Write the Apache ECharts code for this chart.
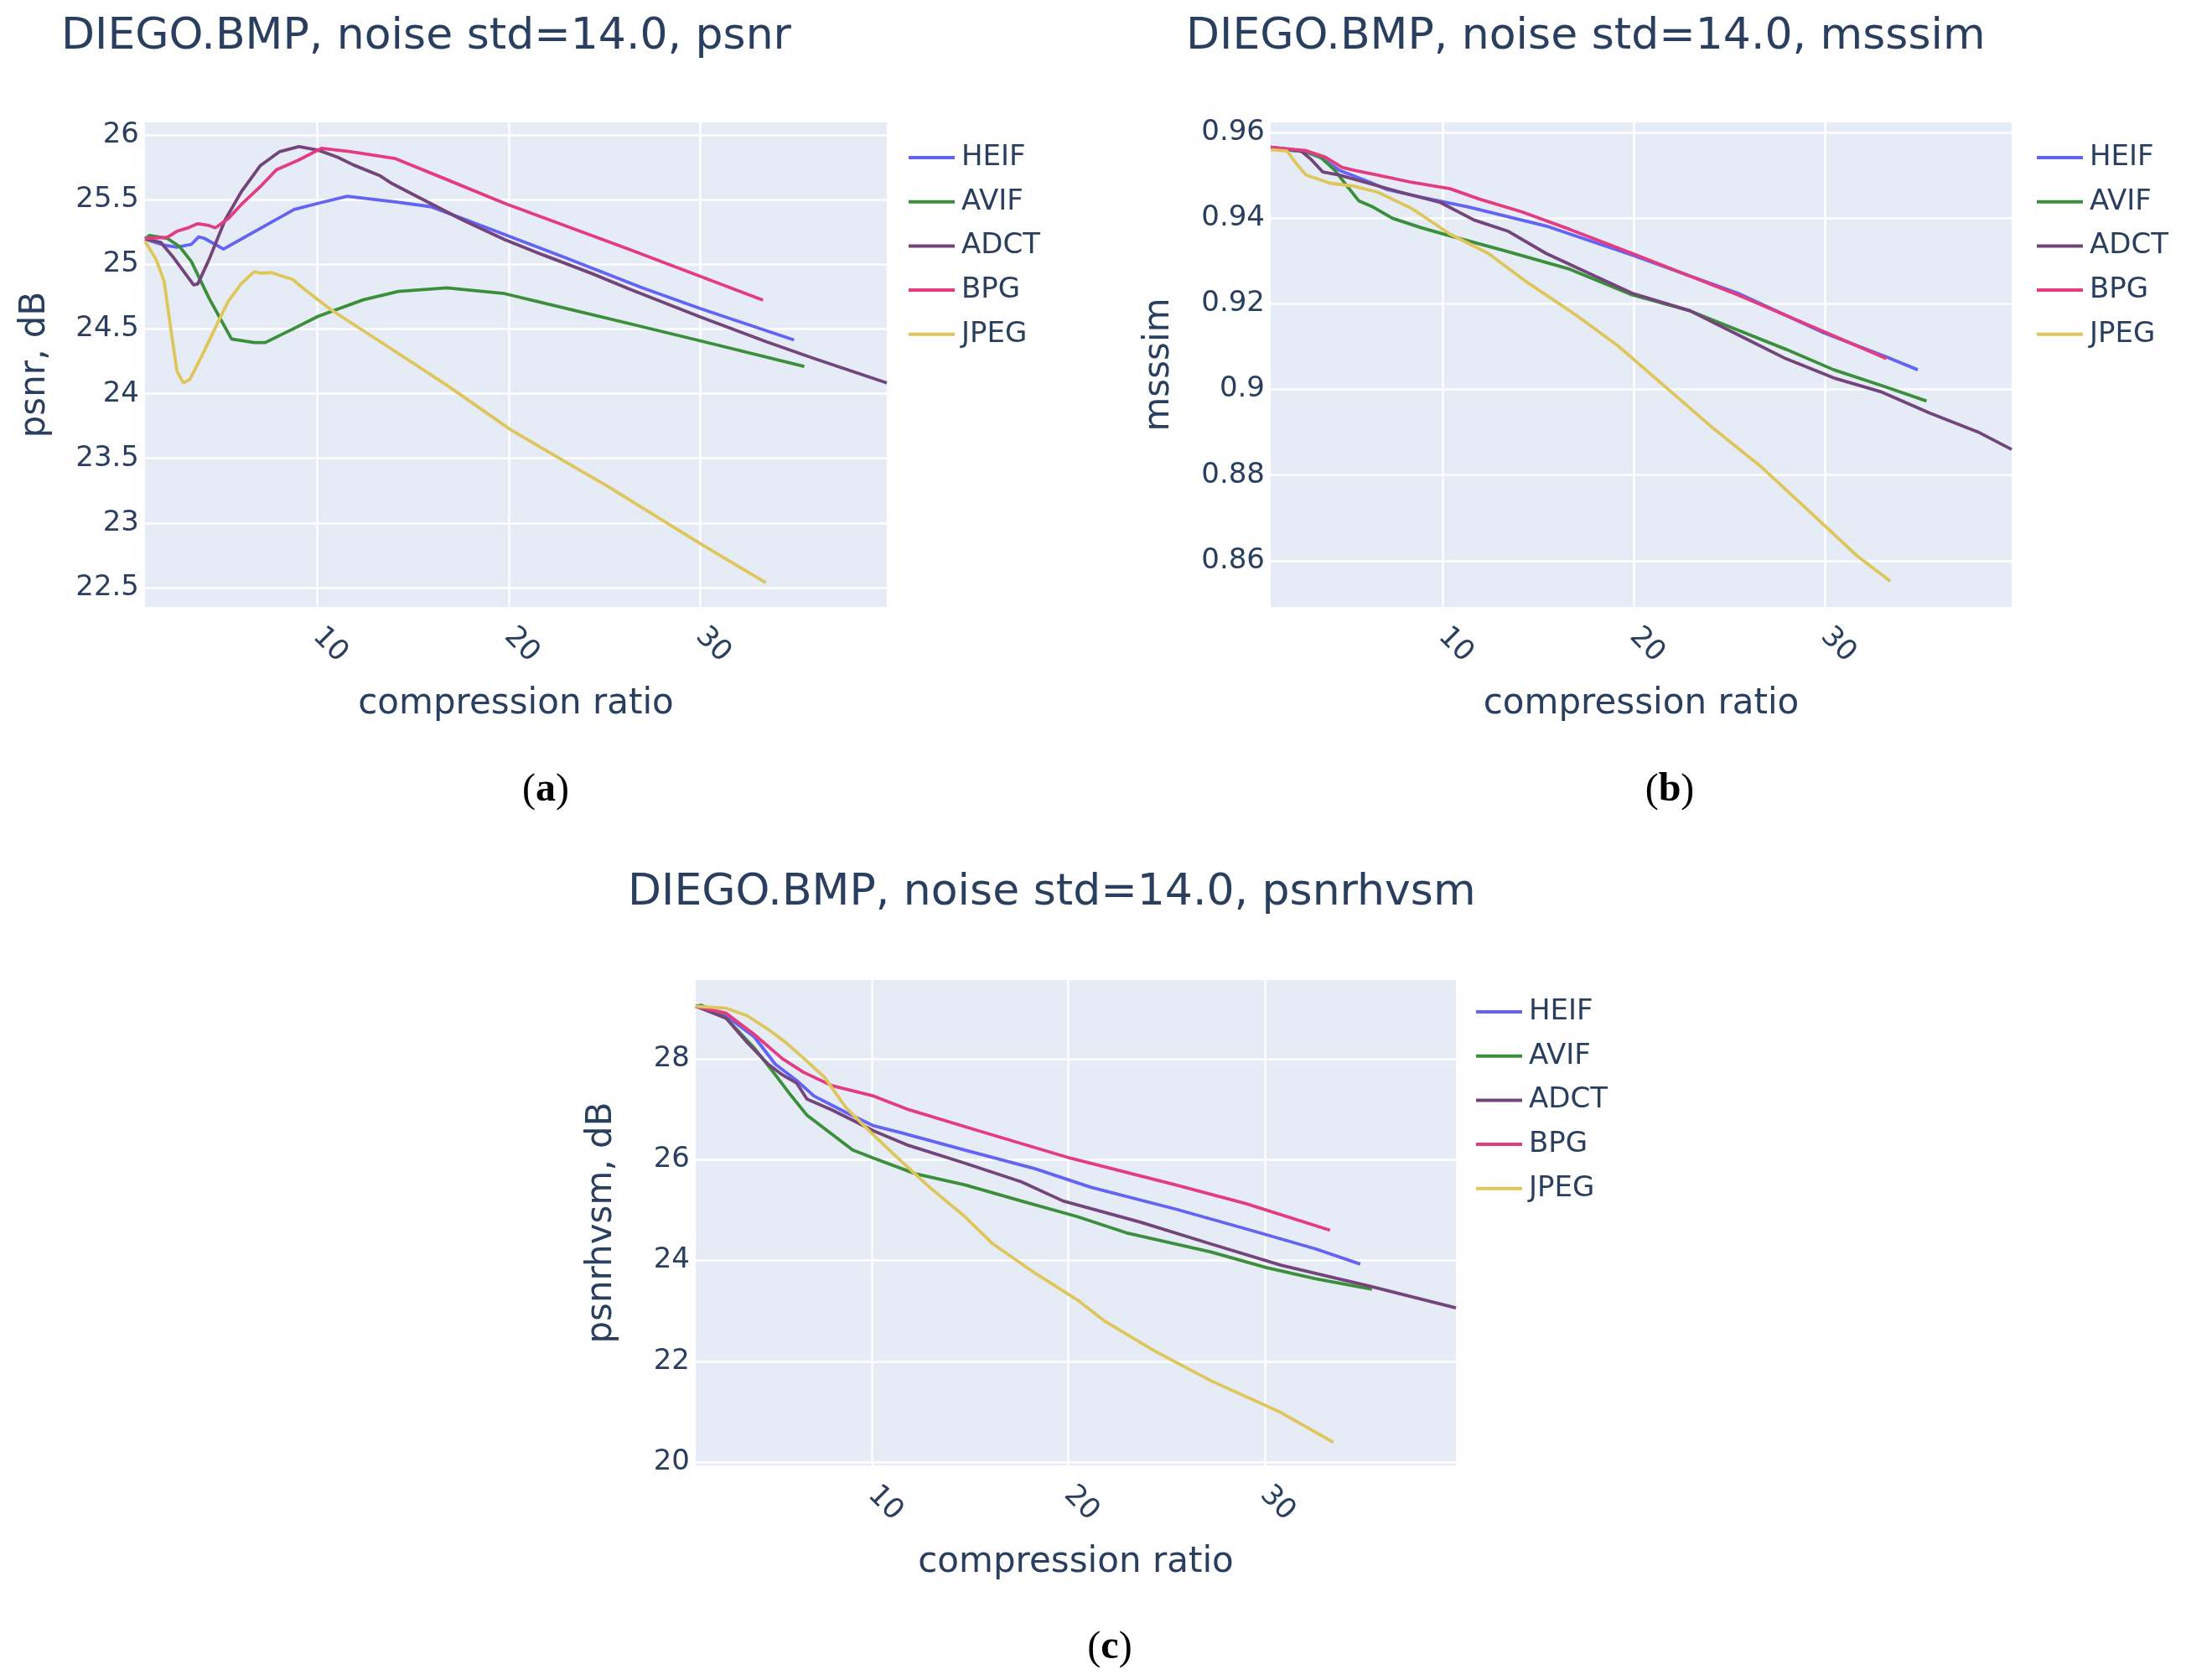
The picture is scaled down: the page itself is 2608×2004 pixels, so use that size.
<!DOCTYPE html>
<html>
<head>
<meta charset="utf-8">
<script src="https://cdn.jsdelivr.net/npm/echarts@6/dist/echarts.min.js"></script>
<style>
html,body{margin:0;padding:0;background:#fff;}
#chart{width:2608px;height:2004px;}
</style>
</head>
<body>
<div id="chart"></div>
<script>
// ---- data (compression ratio, metric) ----
const codecs = ['HEIF', 'AVIF', 'ADCT', 'BPG', 'JPEG'];
const xTicks = [10, 20, 30];
const psnrTicks = [22.5, 23, 23.5, 24, 24.5, 25, 25.5, 26];
const msssimTicks = [0.86, 0.88, 0.9, 0.92, 0.94, 0.96];
const hvsmTicks = [20, 22, 24, 26, 28];

const psnrHEIF = [[1,25.197],[2,25.15],[2.67,25.134],[3.42,25.156],[3.8,25.214],[4.1,25.203],[5.1,25.12],[7.03,25.28],[8.79,25.426],[10.05,25.474],[11.56,25.528],[14.08,25.485],[15.92,25.448],[17.6,25.355],[20.1,25.214],[23,25.05],[26.97,24.82],[30,24.66],[34.9,24.416]];
const psnrAVIF = [[1,25.2],[1.24,25.225],[2.16,25.203],[2.8,25.14],[3.42,25.024],[4.35,24.738],[5.52,24.424],[6.7,24.396],[7.28,24.396],[8.71,24.5],[10.05,24.6],[12.4,24.727],[14.24,24.792],[16.76,24.82],[19.78,24.775],[22.63,24.673],[26.3,24.543],[30,24.41],[35.44,24.211]];
const psnrADCT = [[1,25.197],[1.83,25.171],[2.5,25.052],[3.09,24.933],[3.54,24.842],[3.76,24.85],[4.35,25.04],[5.18,25.344],[6.02,25.56],[7.03,25.766],[8.04,25.874],[9.04,25.913],[10.05,25.885],[11.06,25.831],[11.9,25.77],[13.24,25.69],[13.91,25.626],[15.75,25.485],[17.6,25.344],[19.78,25.193],[21.8,25.074],[24.3,24.933],[26.3,24.81],[30,24.595],[33.5,24.4],[36,24.27],[39.75,24.084]];
const psnrBPG = [[1,25.203],[2.16,25.21],[2.67,25.258],[3.17,25.28],[3.76,25.316],[4.26,25.305],[4.68,25.284],[5.35,25.355],[6.02,25.463],[7.03,25.604],[7.87,25.734],[9.04,25.81],[10.22,25.9],[11.73,25.874],[14.08,25.82],[16.76,25.658],[19.78,25.474],[26.3,25.117],[33.28,24.725]];
const psnrJPEG = [[1,25.18],[1.58,25.04],[2.0,24.868],[2.33,24.52],[2.67,24.175],[3.0,24.084],[3.34,24.11],[4.01,24.305],[4.85,24.565],[5.35,24.716],[6.02,24.85],[6.7,24.944],[7.03,24.933],[7.62,24.937],[8.04,24.916],[8.71,24.885],[9.38,24.803],[10.72,24.65],[13.4,24.392],[16.76,24.067],[20.12,23.72],[23.47,23.43],[25.1,23.29],[30,22.84],[33.43,22.537]];

const msssimHEIF = [[1,0.9564],[2.85,0.9555],[3.6,0.9542],[4.6,0.9512],[6.1,0.9486],[7.1,0.9467],[8.9,0.9449],[11.38,0.9426],[15.4,0.9382],[19.9,0.9314],[25.43,0.9225],[29.95,0.9132],[33.2,0.9076],[34.84,0.9046]];
const msssimAVIF = [[1,0.9564],[2.85,0.9555],[3.6,0.9543],[4.35,0.9512],[5.0,0.9475],[5.6,0.9441],[6.36,0.9426],[7.37,0.94],[8.87,0.9378],[10.38,0.9359],[13.4,0.9322],[16.65,0.9281],[19.9,0.9221],[22.92,0.9184],[25.43,0.9139],[27.94,0.9094],[30.45,0.9046],[32.96,0.9009],[35.3,0.8973]];
const msssimADCT = [[1,0.9566],[2.6,0.9557],[3.1,0.9538],[3.73,0.9508],[4.6,0.9501],[6.1,0.9482],[7.87,0.946],[9.87,0.9437],[11.63,0.9396],[13.4,0.937],[15.4,0.9318],[17.9,0.9266],[19.9,0.9225],[22.92,0.9184],[25.43,0.9128],[27.94,0.9072],[30.45,0.9027],[32.96,0.8994],[35.47,0.8945],[37.98,0.8901],[39.75,0.886]];
const msssimBPG = [[1,0.9566],[2.85,0.9558],[3.85,0.9543],[4.73,0.9519],[5.36,0.9512],[6.6,0.9501],[8.37,0.9484],[10.38,0.9469],[11.9,0.9445],[14.14,0.9415],[16.65,0.9374],[19.9,0.9318],[25.43,0.9221],[29.95,0.9135],[33.2,0.9072]];
const msssimJPEG = [[1,0.956],[1.85,0.9557],[2.35,0.9527],[2.85,0.9501],[4.1,0.9482],[5.36,0.9475],[6.6,0.9461],[8.37,0.9423],[10.38,0.9363],[12.38,0.9318],[14.39,0.9251],[16.9,0.9176],[19.16,0.9102],[21.67,0.9005],[24.18,0.8908],[26.69,0.8818],[29.2,0.8714],[31.7,0.861],[33.4,0.8552]];

const hvsmHEIF = [[1,29.04],[2.56,28.85],[3.99,28.43],[5.06,27.89],[6.14,27.57],[7.03,27.26],[8.64,26.94],[10.07,26.67],[11.5,26.53],[14.72,26.19],[18.3,25.82],[21.16,25.45],[25.46,25.02],[29.03,24.63],[32.6,24.23],[34.87,23.93]];
const hvsmAVIF = [[1,29.04],[1.3,29.06],[2.56,28.8],[3.99,28.21],[5.06,27.68],[5.78,27.31],[6.67,26.88],[7.92,26.51],[9.0,26.19],[10.07,26.03],[12.2,25.72],[14.72,25.5],[17.6,25.18],[20.45,24.87],[22.95,24.55],[27.25,24.17],[30.1,23.86],[32.6,23.64],[35.47,23.43]];
const hvsmADCT = [[1,29.04],[2.56,28.8],[3.63,28.32],[4.7,27.89],[5.42,27.68],[6.14,27.52],[6.67,27.2],[7.92,26.99],[9.0,26.78],[10.07,26.57],[11.86,26.28],[14.72,25.93],[17.6,25.56],[19.73,25.18],[23.67,24.76],[27.25,24.33],[30.82,23.91],[35.47,23.48],[39.75,23.06]];
const hvsmBPG = [[1,29.04],[2.56,28.9],[3.99,28.48],[5.42,28.0],[6.5,27.73],[7.92,27.47],[10.07,27.26],[11.86,26.99],[15.44,26.57],[20.09,26.03],[25.46,25.5],[29.03,25.13],[33.33,24.6]];
const hvsmJPEG = [[1,29.04],[2.56,29.0],[3.63,28.85],[4.7,28.58],[5.6,28.32],[6.67,27.95],[7.57,27.63],[8.64,27.04],[9.71,26.62],[11.14,26.09],[12.93,25.45],[14.72,24.87],[16.15,24.33],[18.3,23.75],[20.45,23.22],[21.88,22.79],[24.38,22.21],[27.25,21.62],[30.82,20.99],[33.5,20.4]];

// ---- styling ----
const colors = {HEIF:'#6464f4', AVIF:'#3b8f3b', ADCT:'#74457a', BPG:'#e43c82', JPEG:'#dfc65c'};
const FONT = 'DejaVu Sans';
const TXT = '#2a3f5f';
const BG = '#e5ecf6';

const panels = [
  {title:'DIEGO.BMP, noise std=14.0, psnr', yName:'psnr, dB', yTicks:psnrTicks, yMin:22.35, yMax:26.1,
   sets:[psnrHEIF, psnrAVIF, psnrADCT, psnrBPG, psnrJPEG],
   grid:{left:173, top:146, width:885, height:578}, titlePos:[68, 13], legendPos:[1079, 163], yGap:110, tag:'a', tagPos:[646, 913]},
  {title:'DIEGO.BMP, noise std=14.0, msssim', yName:'msssim', yTicks:msssimTicks, yMin:0.8492, yMax:0.9624,
   sets:[msssimHEIF, msssimAVIF, msssimADCT, msssimBPG, msssimJPEG],
   grid:{left:1516, top:146, width:884, height:578}, titlePos:[1410, 13], legendPos:[2425, 163], yGap:112, tag:'b', tagPos:[1987, 913]},
  {title:'DIEGO.BMP, noise std=14.0, psnrhvsm', yName:'psnrhvsm, dB', yTicks:hvsmTicks, yMin:19.94, yMax:29.56,
   sets:[hvsmHEIF, hvsmAVIF, hvsmADCT, hvsmBPG, hvsmJPEG],
   grid:{left:830, top:1169, width:907, height:579}, titlePos:[744, 1034], legendPos:[1756, 1182], yGap:91, tag:'c', tagPos:[1319, 1936]}
];

const option = {
  backgroundColor:'#ffffff',
  animation:false,
  title:[], grid:[], xAxis:[], yAxis:[], legend:[], series:[]
};

panels.forEach((p, i) => {
  option.title.push({text:p.title, left:p.titlePos[0], top:p.titlePos[1],
    textStyle:{fontFamily:FONT, fontSize:52, fontWeight:'normal', color:TXT, lineHeight:52}});
  option.title.push({text:'{p|(}{b|' + p.tag + '}{p|)}', left:p.tagPos[0], top:p.tagPos[1], textAlign:'center',
    textStyle:{fontWeight:'normal', rich:{p:{fontFamily:'Liberation Serif', fontSize:48, fontWeight:'normal', color:'#000', lineHeight:50},
                     b:{fontFamily:'Liberation Serif', fontSize:48, fontWeight:'bold', color:'#000', lineHeight:50}}}});
  option.grid.push(Object.assign({show:true, backgroundColor:BG, borderWidth:0, containLabel:false, outerBoundsMode:'none'}, p.grid));
  option.xAxis.push({type:'value', gridIndex:i, min:1, max:39.75,
    name:'compression ratio', nameLocation:'middle', nameGap:95,
    nameTextStyle:{fontFamily:FONT, fontSize:42, color:TXT},
    axisLine:{show:false}, axisTick:{show:false, customValues:xTicks},
    axisLabel:{customValues:xTicks, rotate:-45, margin:30, fontFamily:FONT, fontSize:34, color:TXT},
    splitLine:{show:true, lineStyle:{color:'#ffffff', width:2.5}}});
  option.yAxis.push({type:'value', gridIndex:i, min:p.yMin, max:p.yMax,
    name:p.yName, nameLocation:'middle', nameGap:p.yGap,
    nameTextStyle:{fontFamily:FONT, fontSize:42, color:TXT},
    axisLine:{show:false}, axisTick:{show:false, customValues:p.yTicks},
    axisLabel:{customValues:p.yTicks, margin:7, fontFamily:FONT, fontSize:34, color:TXT},
    splitLine:{show:true, lineStyle:{color:'#ffffff', width:2.5}}});
  option.legend.push({orient:'vertical', left:p.legendPos[0], top:p.legendPos[1], data:codecs,
    icon:'rect', itemWidth:55, itemHeight:4, itemGap:12.7,
    textStyle:{fontFamily:FONT, fontSize:34, color:TXT, lineHeight:40, padding:[0,0,0,3]}});
  codecs.forEach((c, k) => {
    option.series.push({type:'line', name:c, xAxisIndex:i, yAxisIndex:i, data:p.sets[k],
      showSymbol:false, symbol:'none', smooth:false, color:colors[c],
      lineStyle:{width:3.8, color:colors[c]}, z: 10 + k});
  });
});

const chart = echarts.init(document.getElementById('chart'), null, {renderer:'canvas'});
chart.setOption(option);
</script>
</body>
</html>
